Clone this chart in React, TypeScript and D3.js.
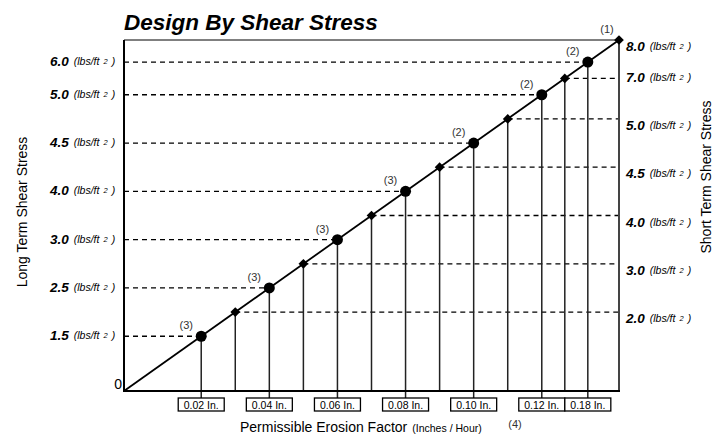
import React, { useEffect, useRef } from 'react';
import * as d3 from 'd3';

// long term (circles) and short term (diamonds) points along the diagonal
const longTermStress = [1.5, 2.5, 3.0, 4.0, 4.5, 5.0, 6.0];
const longTermErosion = [0.02, 0.04, 0.06, 0.08, 0.1, 0.12, 0.18];
const longTermNotes = ['(3)', '(3)', '(3)', '(3)', '(2)', '(2)', '(2)'];
const shortTermStress = [2.0, 3.0, 4.0, 4.5, 5.0, 7.0, 8.0];
const shortTermErosion = [0.03, 0.05, 0.07, 0.09, 0.11, 0.15, 0.2];
const erosionLabels = ['0.02 In.', '0.04 In.', '0.06 In.', '0.08 In.', '0.10 In.', '0.12 In.', '0.18 In.'];

const FONT = '"Liberation Sans", Arial, sans-serif';

const App = () => {
  const ref = useRef<SVGSVGElement>(null);

  useEffect(() => {
    const svg = d3.select(ref.current);
    svg.selectAll('*').remove();

    const left = 124, right = 619, top = 40, bottom = 391;

    // the erosion axis is not linear: piecewise scale onto the diagonal
    const along = d3.scaleLinear()
      .domain([0, 0.02, 0.12, 0.18, 0.2])
      .range([0, 0.156, 0.844, 0.937, 1]);
    const x = d3.scaleLinear().domain([0, 1]).range([left, right]);
    const y = d3.scaleLinear().domain([0, 1]).range([bottom, top]);

    const longPts = longTermStress.map((v, i) => ({
      v, t: along(longTermErosion[i]), note: longTermNotes[i], label: erosionLabels[i],
    }));
    const shortPts = shortTermStress.map((v, i) => ({ v, t: along(shortTermErosion[i]) }));

    svg.append('text')
      .attr('x', left).attr('y', 30)
      .attr('font-family', FONT).attr('font-size', 22.5)
      .attr('font-weight', 'bold').attr('font-style', 'italic')
      .text('Design By Shear Stress');

    // dashed guides
    svg.append('g').selectAll('line')
      .data(longPts)
      .join('line')
        .attr('x1', left).attr('x2', d => x(d.t))
        .attr('y1', d => y(d.t)).attr('y2', d => y(d.t))
        .attr('stroke', '#000').attr('stroke-width', 1.3).attr('stroke-dasharray', '5,4');
    svg.append('g').selectAll('line')
      .data(shortPts)
      .join('line')
        .attr('x1', d => x(d.t)).attr('x2', right)
        .attr('y1', d => y(d.t)).attr('y2', d => y(d.t))
        .attr('stroke', '#000').attr('stroke-width', 1.3).attr('stroke-dasharray', '5,4');

    // vertical drops
    svg.append('g').selectAll('line')
      .data(longPts)
      .join('line')
        .attr('x1', d => x(d.t)).attr('x2', d => x(d.t))
        .attr('y1', d => y(d.t)).attr('y2', bottom + 7)
        .attr('stroke', '#222').attr('stroke-width', 1.5);
    svg.append('g').selectAll('line')
      .data(shortPts)
      .join('line')
        .attr('x1', d => x(d.t)).attr('x2', d => x(d.t))
        .attr('y1', d => y(d.t)).attr('y2', bottom)
        .attr('stroke', '#222').attr('stroke-width', 1.5);

    // frame
    svg.append('line').attr('x1', left).attr('x2', right).attr('y1', top).attr('y2', top)
      .attr('stroke', '#000').attr('stroke-width', 1);
    svg.append('line').attr('x1', left).attr('x2', left).attr('y1', top).attr('y2', bottom)
      .attr('stroke', '#000').attr('stroke-width', 2);
    svg.append('line').attr('x1', right).attr('x2', right).attr('y1', top).attr('y2', bottom)
      .attr('stroke', '#444').attr('stroke-width', 2);
    svg.append('line').attr('x1', left - 1).attr('x2', right + 1).attr('y1', bottom).attr('y2', bottom)
      .attr('stroke', '#000').attr('stroke-width', 2);

    // diagonal
    svg.append('line')
      .attr('x1', x(0)).attr('y1', y(0)).attr('x2', x(1)).attr('y2', y(1))
      .attr('stroke', '#000').attr('stroke-width', 1.8);

    // markers
    svg.append('g').selectAll('circle')
      .data(longPts)
      .join('circle')
        .attr('cx', d => x(d.t)).attr('cy', d => y(d.t)).attr('r', 5.5)
        .attr('fill', '#000');
    const diamond = d3.symbol().type(d3.symbolDiamond2).size(60);
    svg.append('g').selectAll('path')
      .data(shortPts)
      .join('path')
        .attr('d', diamond)
        .attr('transform', d => `translate(${x(d.t)},${y(d.t)})`)
        .attr('fill', '#000');

    // notes
    svg.append('g').selectAll('text')
      .data(longPts)
      .join('text')
        .attr('x', d => x(d.t) - 15).attr('y', d => y(d.t) - 10)
        .attr('text-anchor', 'middle').attr('dominant-baseline', 'middle')
        .attr('font-family', FONT).attr('font-size', 11).attr('fill', '#333')
        .text(d => d.note);
    svg.append('text')
      .attr('x', x(1) - 12).attr('y', y(1) - 10)
      .attr('text-anchor', 'middle').attr('dominant-baseline', 'middle')
      .attr('font-family', FONT).attr('font-size', 11).attr('fill', '#333')
      .text('(1)');

    // erosion boxes
    const boxes = svg.append('g').selectAll('g')
      .data(longPts)
      .join('g')
        .attr('transform', d => `translate(${x(d.t)},${bottom + 7})`);
    boxes.append('rect')
      .attr('x', -23).attr('y', 0).attr('width', 46).attr('height', 13)
      .attr('fill', '#fff').attr('stroke', '#000').attr('stroke-width', 1.3);
    boxes.append('text')
      .attr('x', 0).attr('y', 10.5)
      .attr('text-anchor', 'middle')
      .attr('font-family', FONT).attr('font-size', 10.5)
      .text(d => d.label);

    // stress labels
    const stressLabel = (g, anchorX, v, yy) => {
      const t = g.append('text')
        .attr('x', anchorX).attr('y', yy)
        .attr('dominant-baseline', 'middle')
        .attr('font-family', FONT).attr('font-style', 'italic');
      t.append('tspan').attr('font-size', 13.5).attr('font-weight', 'bold').text(d3.format('.1f')(v));
      t.append('tspan').attr('font-size', 10.5).attr('dx', 5).text('(lbs/ft');
      t.append('tspan').attr('font-size', 7.5).attr('dx', 4).text('2');
      t.append('tspan').attr('font-size', 10.5).attr('dx', 4).text(')');
    };
    const leftG = svg.append('g');
    longPts.forEach(d => stressLabel(leftG, 50, d.v, y(d.t)));
    const rightG = svg.append('g');
    shortPts.forEach(d => stressLabel(rightG, 626, d.v, y(d.t) + (d.v === 7 ? 0 : 7)));

    svg.append('text')
      .attr('x', 122).attr('y', 385)
      .attr('text-anchor', 'end').attr('dominant-baseline', 'middle')
      .attr('font-family', FONT).attr('font-size', 14)
      .text('0');

    // axis titles
    svg.append('text')
      .attr('transform', 'translate(27,212) rotate(-90)')
      .attr('text-anchor', 'middle')
      .attr('font-family', FONT).attr('font-size', 14)
      .text('Long Term Shear Stress');
    svg.append('text')
      .attr('transform', 'translate(711,177) rotate(-90)')
      .attr('text-anchor', 'middle')
      .attr('font-family', FONT).attr('font-size', 14)
      .text('Short Term Shear Stress');

    const xt = svg.append('text')
      .attr('x', 240).attr('y', 432)
      .attr('font-family', FONT);
    xt.append('tspan').attr('font-size', 14).text('Permissible Erosion Factor');
    xt.append('tspan').attr('font-size', 10.5).attr('dx', 5).text('(Inches / Hour)');
    svg.append('text')
      .attr('x', 515).attr('y', 425)
      .attr('text-anchor', 'middle').attr('dominant-baseline', 'middle')
      .attr('font-family', FONT).attr('font-size', 11).attr('fill', '#333')
      .text('(4)');
  }, []);

  return (
    <svg ref={ref} width={725} height={436}
      style={{ position: 'absolute', left: 0, top: 0, background: '#fff' }}></svg>
  );
};

export default App;
